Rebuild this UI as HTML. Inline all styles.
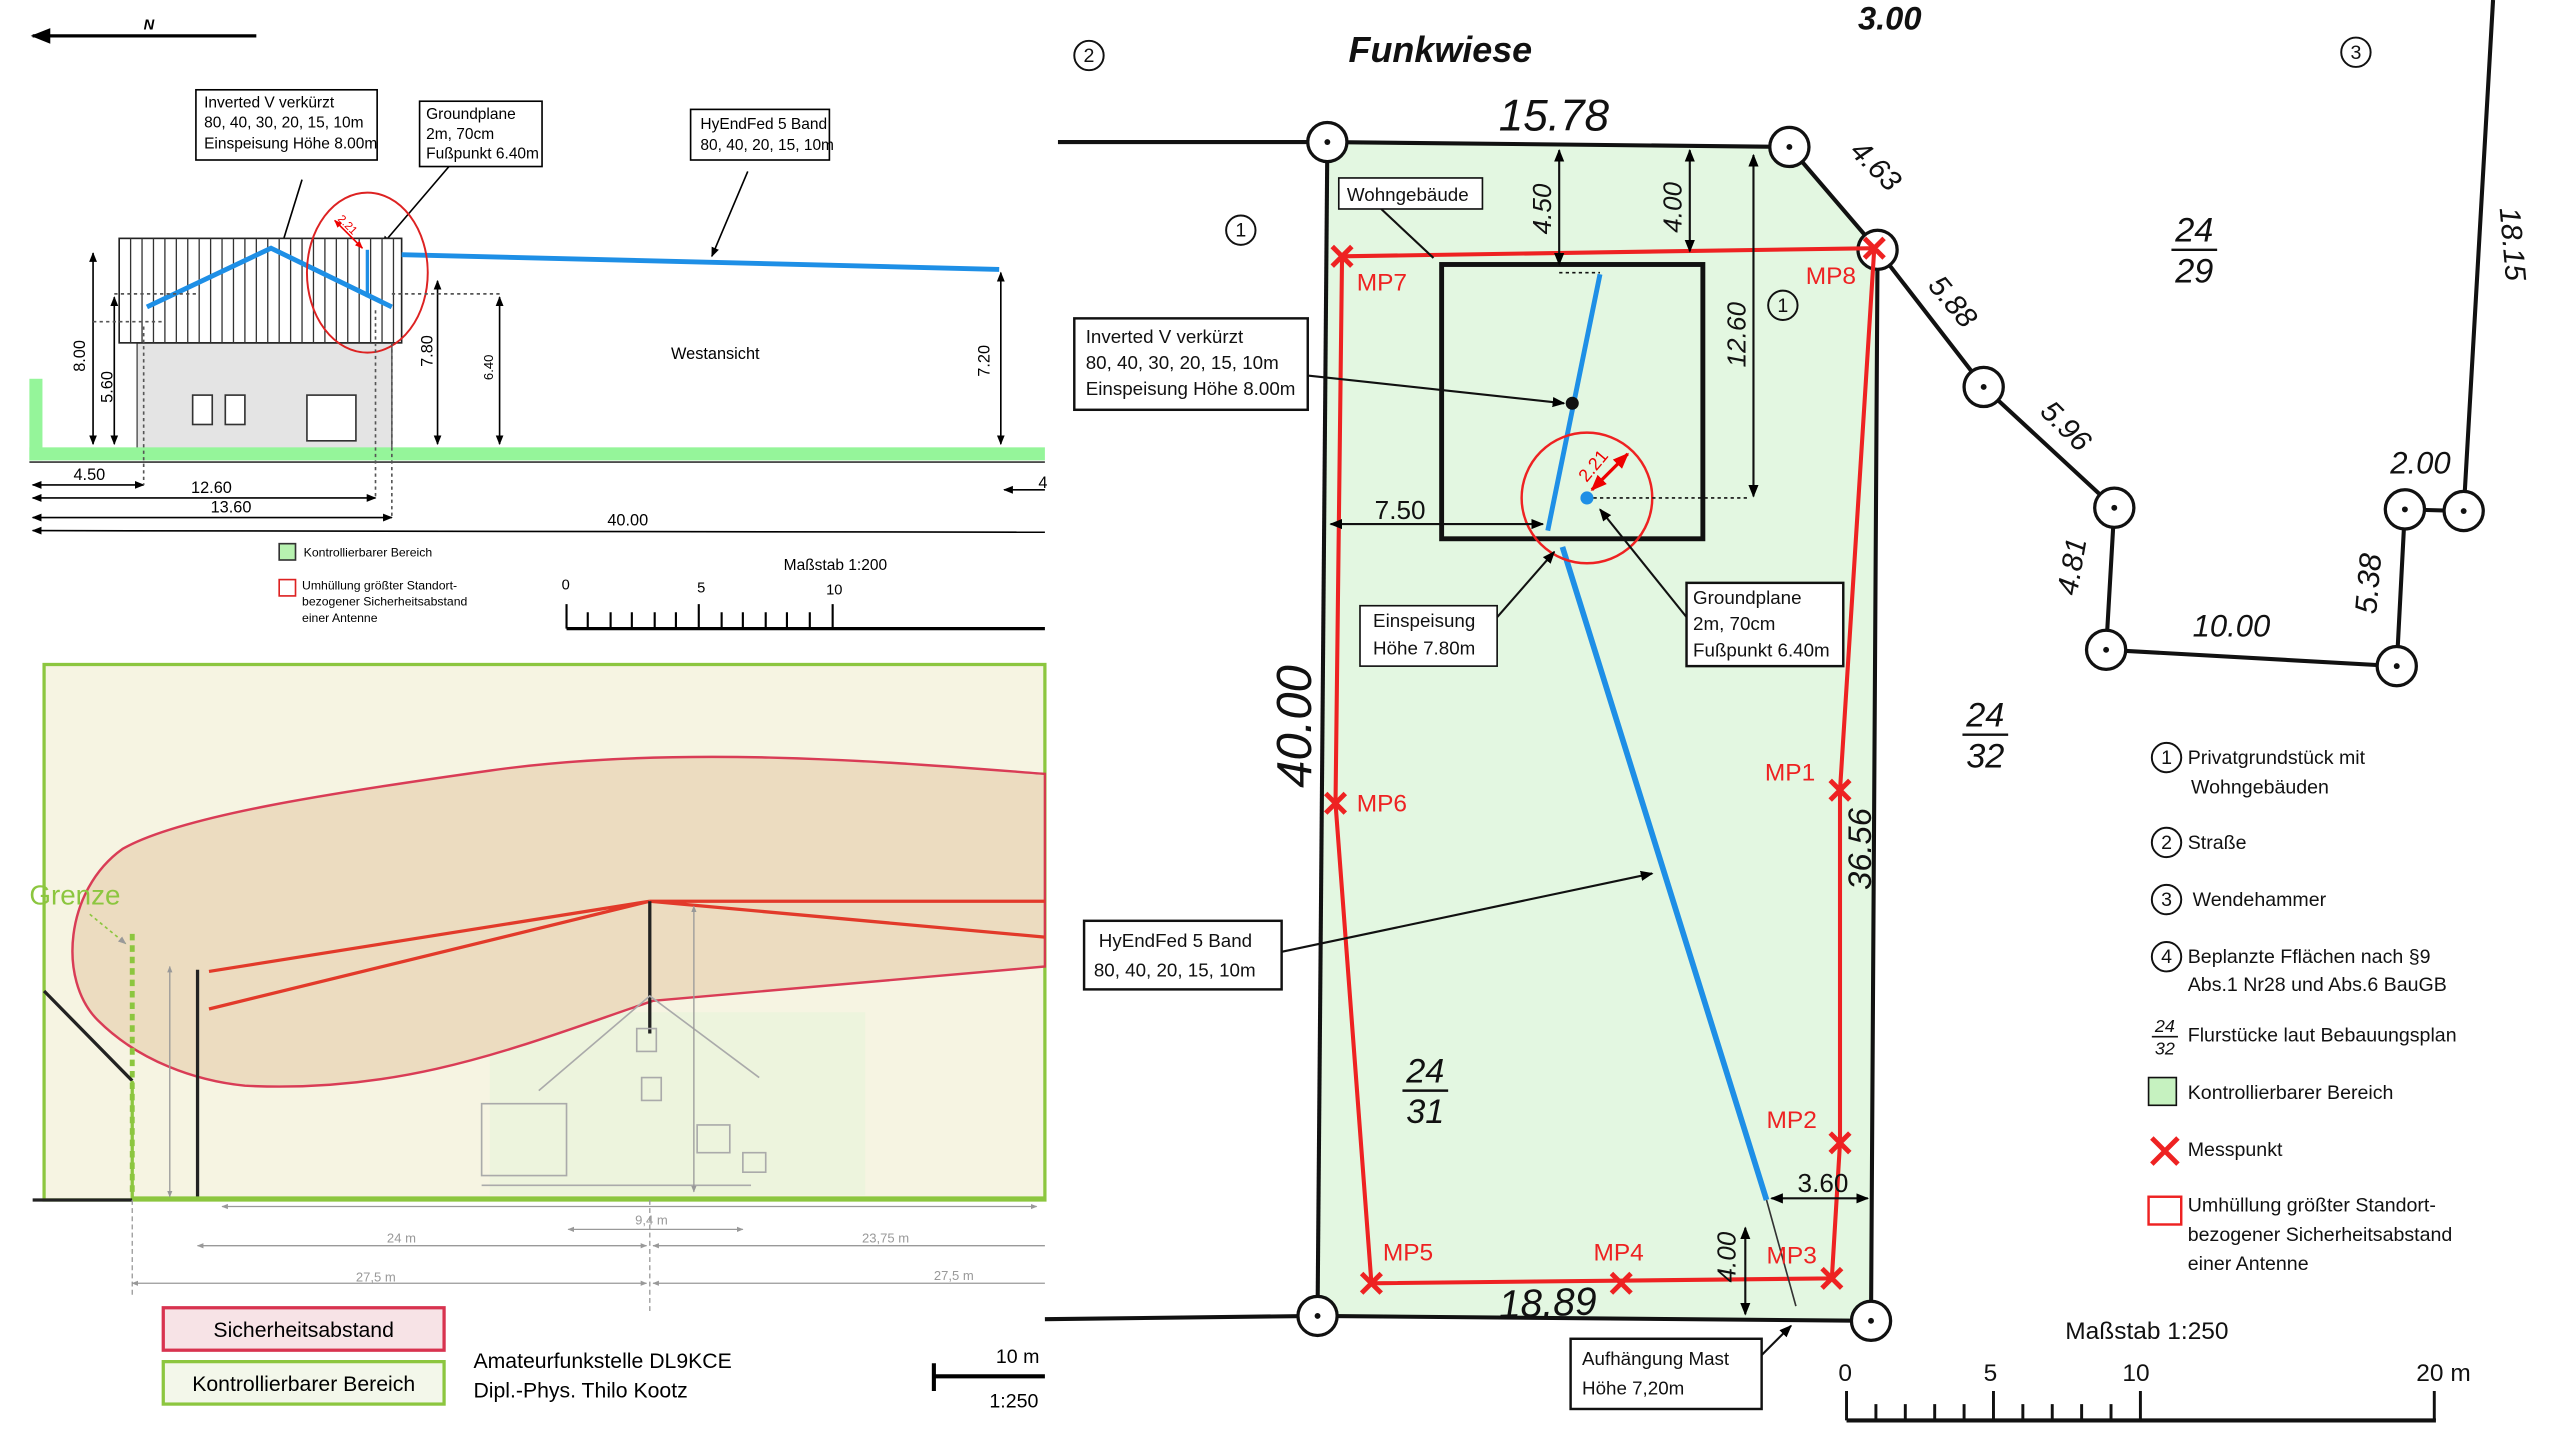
<!DOCTYPE html>
<html><head><meta charset="utf-8"><style>html,body{margin:0;padding:0;background:#fff}svg{display:block}text{font-family:"Liberation Sans",sans-serif}</style></head><body>
<svg width="2560" height="1440" viewBox="0 0 1568 882" preserveAspectRatio="none" xmlns="http://www.w3.org/2000/svg">
<defs>
<marker id="a" viewBox="0 0 10 10" refX="9" refY="5" markerWidth="6" markerHeight="6" orient="auto-start-reverse"><path d="M0,1 L10,5 L0,9 z" fill="#000"/></marker>
<marker id="r" viewBox="0 0 10 10" refX="9" refY="5" markerWidth="5" markerHeight="5" orient="auto-start-reverse"><path d="M0,1 L10,5 L0,9 z" fill="#e00"/></marker>
<marker id="g" viewBox="0 0 10 10" refX="9" refY="5" markerWidth="5" markerHeight="5" orient="auto-start-reverse"><path d="M0,1 L10,5 L0,9 z" fill="#999"/></marker>
</defs>
<rect width="1568" height="882" fill="#fff"/>
<!-- TOP LEFT -->
<line x1="20" y1="22" x2="157" y2="22" stroke="#000" stroke-width="2" marker-start="url(#a)"/>
<text x="88" y="18" font-size="9" font-weight="bold" font-style="italic">N</text>
<g font-size="9.5">
<rect x="120" y="55" width="111" height="43" fill="#fff" stroke="#000"/>
<text x="125" y="66">Inverted V verkürzt</text><text x="125" y="78">80, 40, 30, 20, 15, 10m</text><text x="125" y="91">Einspeisung Höhe 8.00m</text>
<rect x="257" y="62" width="75" height="40" fill="#fff" stroke="#000"/>
<text x="261" y="73">Groundplane</text><text x="261" y="85">2m, 70cm</text><text x="261" y="97">Fußpunkt 6.40m</text>
<rect x="423" y="67" width="85" height="31" fill="#fff" stroke="#000"/>
<text x="429" y="79">HyEndFed 5 Band</text><text x="429" y="92">80, 40, 20, 15, 10m</text>
</g>
<line x1="185" y1="110" x2="172" y2="152" stroke="#000" marker-end="url(#a)"/>
<line x1="275" y1="102" x2="234" y2="150" stroke="#000" marker-end="url(#a)"/>
<line x1="458" y1="105" x2="436" y2="157" stroke="#000" marker-end="url(#a)"/>
<rect x="84" y="210" width="156" height="65" fill="#e4e4e4" stroke="#666"/>
<rect x="118" y="242" width="12" height="18" fill="#fff" stroke="#333"/><rect x="138" y="242" width="12" height="18" fill="#fff" stroke="#333"/><rect x="188" y="242" width="30" height="28" fill="#fff" stroke="#333"/>
<rect x="73" y="146" width="173" height="64" fill="#fff" stroke="#222"/>
<g stroke="#333" stroke-width="0.8">
<path d="M80,146v64M87,146v64M94,146v64M101,146v64M108,146v64M115,146v64M122,146v64M129,146v64M136,146v64M143,146v64M150,146v64M157,146v64M164,146v64M171,146v64M178,146v64M185,146v64M192,146v64M199,146v64M206,146v64M213,146v64M220,146v64M227,146v64M234,146v64M241,146v64"/></g>
<polyline points="90,188 166,152 240,188" fill="none" stroke="#1e8fe6" stroke-width="3"/>
<line x1="225" y1="153" x2="225" y2="182" stroke="#1e8fe6" stroke-width="2"/>
<line x1="246" y1="156" x2="612" y2="165" stroke="#1e8fe6" stroke-width="3"/>
<ellipse cx="225" cy="167" rx="37" ry="49" fill="none" stroke="#d22" stroke-width="1.2"/>
<line x1="205" y1="135" x2="222" y2="152" stroke="#e00" marker-start="url(#r)" marker-end="url(#r)"/>
<text x="205" y="138" font-size="7" fill="#e00" transform="rotate(45 210 138)">2.21</text>
<rect x="18" y="274" width="622" height="8" fill="#95f59a"/><rect x="18" y="232" width="8" height="50" fill="#95f59a"/>
<line x1="18" y1="283" x2="640" y2="283" stroke="#333"/>
<g stroke="#000" fill="none" stroke-width="1">
<line x1="57" y1="155" x2="57" y2="272" marker-start="url(#a)" marker-end="url(#a)"/>
<line x1="70" y1="182" x2="70" y2="272" marker-start="url(#a)" marker-end="url(#a)"/>
<line x1="268" y1="172" x2="268" y2="272" marker-start="url(#a)" marker-end="url(#a)"/>
<line x1="306" y1="182" x2="306" y2="272" marker-start="url(#a)" marker-end="url(#a)"/>
<line x1="613" y1="167" x2="613" y2="272" marker-start="url(#a)" marker-end="url(#a)"/>
<line x1="20" y1="297" x2="88" y2="297" marker-start="url(#a)" marker-end="url(#a)"/>
<line x1="20" y1="305" x2="230" y2="305" marker-start="url(#a)" marker-end="url(#a)"/>
<line x1="20" y1="317" x2="240" y2="317" marker-start="url(#a)" marker-end="url(#a)"/>
<line x1="20" y1="325" x2="640" y2="326"  marker-start="url(#a)"/>
<line x1="615" y1="300" x2="640" y2="300" marker-start="url(#a)"/>
</g>
<g stroke="#555" stroke-dasharray="2,2"><path d="M99,197H57M120,180H70M240,180H306M88,200V297M230,190V305M240,210V317"/></g>
<g font-size="10">
<text x="52" y="218" transform="rotate(-90 52 218)" text-anchor="middle">8.00</text>
<text x="69" y="237" transform="rotate(-90 69 237)" text-anchor="middle">5.60</text>
<text x="265" y="215" transform="rotate(-90 265 215)" text-anchor="middle">7.80</text>
<text x="302" y="225" transform="rotate(-90 302 225)" text-anchor="middle" font-size="8">6.40</text>
<text x="606" y="221" transform="rotate(-90 606 221)" text-anchor="middle">7.20</text>
<text x="45" y="294">4.50</text><text x="117" y="302">12.60</text><text x="129" y="314">13.60</text><text x="372" y="322">40.00</text><text x="636" y="299">4</text>
<text x="411" y="220">Westansicht</text>
<text x="480" y="349" font-size="9.5">Maßstab 1:200</text>
<text x="344" y="361" font-size="9">0</text><text x="427" y="363" font-size="9">5</text><text x="506" y="364" font-size="9">10</text>
</g>
<rect x="171" y="333" width="10" height="10" fill="#b7f2b0" stroke="#333"/>
<text x="186" y="341" font-size="7.5">Kontrollierbarer Bereich</text>
<rect x="171" y="355" width="10" height="10" fill="#fff" stroke="#d22"/>
<text x="185" y="361" font-size="7.5">Umhüllung größter Standort-</text><text x="185" y="371" font-size="7.5">bezogener Sicherheitsabstand</text><text x="185" y="381" font-size="7.5">einer Antenne</text>
<line x1="347" y1="385" x2="640" y2="385" stroke="#000" stroke-width="2"/>
<path d="M347,370V385M360,375V385M374,375V385M387,375V385M401,375V385M414,375V385M428,370V385M442,375V385M455,375V385M469,375V385M482,375V385M496,375V385M510,370V385" stroke="#000" stroke-width="1.3"/>
<!-- BOTTOM LEFT -->
<rect x="27" y="407" width="613" height="328" fill="#f6f4e2" stroke="#8cc63f" stroke-width="2"/>
<rect x="300" y="620" width="230" height="112" fill="#e9f3dc" opacity="0.7"/>
<path d="M640,474 C560,468 420,455 300,472 C200,486 110,500 75,520 C40,545 35,600 60,625 C85,650 120,662 150,665 C250,670 320,640 400,613 L640,592 Z" fill="#ecdbbf" stroke="#d8334f" stroke-width="1.5" opacity="0.95"/>
<g stroke="#e23a2a" stroke-width="2" fill="none"><path d="M398,552H640M398,552L640,574M398,552L128,595M398,552L128,618"/></g>
<line x1="398" y1="552" x2="398" y2="633" stroke="#222" stroke-width="2"/>
<line x1="121" y1="594" x2="121" y2="733" stroke="#222" stroke-width="2"/>
<g stroke="#aaa" fill="none" stroke-width="1"><path d="M330,668L398,610L465,660M295,676h52v44h-52zM390,630h12v14h-12zM393,660h12v14h-12zM427,689h20v17h-20zM455,706h14v12h-14zM295,726H460"/></g>
<text x="18" y="554" font-size="17" fill="#8cc63f">Grenze</text>
<line x1="55" y1="560" x2="77" y2="578" stroke="#8cc63f" stroke-dasharray="2,2" marker-end="url(#g)"/>
<line x1="81" y1="572" x2="81" y2="733" stroke="#8cc63f" stroke-width="3" stroke-dasharray="4,3"/>
<line x1="27" y1="607" x2="81" y2="662" stroke="#222" stroke-width="2"/>
<line x1="81" y1="662" x2="81" y2="735" stroke="#8cc63f" stroke-width="2"/>
<line x1="20" y1="735" x2="81" y2="735" stroke="#222" stroke-width="2"/>
<line x1="81" y1="734" x2="640" y2="734" stroke="#8cc63f" stroke-width="2.5"/>
<g stroke="#999" stroke-width="0.8" fill="none">
<line x1="136" y1="739" x2="635" y2="739" marker-start="url(#g)" marker-end="url(#g)"/>
<line x1="348" y1="753" x2="455" y2="753" marker-start="url(#g)" marker-end="url(#g)"/>
<line x1="121" y1="763" x2="396" y2="763" marker-start="url(#g)" marker-end="url(#g)"/>
<line x1="400" y1="763" x2="640" y2="763" marker-start="url(#g)"/>
<line x1="81" y1="786" x2="396" y2="786" marker-start="url(#g)" marker-end="url(#g)"/>
<line x1="400" y1="786" x2="640" y2="786" marker-start="url(#g)"/>
<line x1="398" y1="735" x2="398" y2="805" stroke-dasharray="3,2"/>
<line x1="81" y1="735" x2="81" y2="795" stroke-dasharray="3,2"/>
<line x1="104" y1="592" x2="104" y2="733" marker-start="url(#g)" marker-end="url(#g)"/>
<line x1="425" y1="555" x2="425" y2="730" marker-start="url(#g)" marker-end="url(#g)"/>
</g>
<g font-size="8" fill="#999"><text x="237" y="761">24 m</text><text x="389" y="750">9,4 m</text><text x="528" y="761">23,75 m</text><text x="218" y="785">27,5 m</text><text x="572" y="784">27,5 m</text></g>
<rect x="100" y="801" width="172" height="26" fill="#f7e3e6" stroke="#d8334f" stroke-width="2"/>
<text x="186" y="819" font-size="13" text-anchor="middle">Sicherheitsabstand</text>
<rect x="100" y="834" width="172" height="26" fill="#f3f7ea" stroke="#8cc63f" stroke-width="2"/>
<text x="186" y="852" font-size="13" text-anchor="middle">Kontrollierbarer Bereich</text>
<text x="290" y="838" font-size="13">Amateurfunkstelle DL9KCE</text>
<text x="290" y="856" font-size="13">Dipl.-Phys. Thilo Kootz</text>
<text x="610" y="835" font-size="12">10 m</text>
<path d="M572,835V852M572,843H640" stroke="#000" stroke-width="2.5"/>
<text x="606" y="862" font-size="12">1:250</text>
<!-- RIGHT -->
<polygon points="813,87 1096,90 1150,153 1146,809 807,806" fill="#e3f7e1"/>
<g stroke="#111" stroke-width="2.5" fill="none">
<polyline points="648,87 813,87 1096,90 1150,153 1146,809"/>
<polyline points="640,808 807,806 1146,809"/>
<line x1="813" y1="87" x2="807" y2="806"/>
<polyline points="1150,153 1215,237 1295,311 1290,398 1468,408 1473,312 1509,313 1527,0"/>
</g>
<g fill="#fff" stroke="#111" stroke-width="2">
<circle cx="813" cy="87" r="12"/><circle cx="1096" cy="90" r="12"/><circle cx="1150" cy="153" r="12"/><circle cx="807" cy="806" r="12"/><circle cx="1146" cy="809" r="12"/>
<circle cx="1215" cy="237" r="12"/><circle cx="1295" cy="311" r="12"/><circle cx="1290" cy="398" r="12"/><circle cx="1468" cy="408" r="12"/><circle cx="1473" cy="312" r="12"/><circle cx="1509" cy="313" r="12"/>
</g>
<g fill="#111"><circle cx="813" cy="87" r="1.8"/><circle cx="1096" cy="90" r="1.8"/><circle cx="807" cy="806" r="1.8"/><circle cx="1146" cy="809" r="1.8"/><circle cx="1215" cy="237" r="1.8"/><circle cx="1295" cy="311" r="1.8"/><circle cx="1290" cy="398" r="1.8"/><circle cx="1468" cy="408" r="1.8"/><circle cx="1473" cy="312" r="1.8"/><circle cx="1509" cy="313" r="1.8"/></g>
<polygon points="822,157 1148,152 1127,484 1127,700 1122,783 840,786 818,492" fill="none" stroke="#e22" stroke-width="2.5"/>
<rect x="883" y="162" width="160" height="168" fill="none" stroke="#111" stroke-width="3"/>
<line x1="980" y1="168" x2="948" y2="325" stroke="#1e8fe6" stroke-width="3"/>
<line x1="957" y1="335" x2="1082" y2="735" stroke="#1e8fe6" stroke-width="3.5"/>
<line x1="1082" y1="735" x2="1100" y2="800" stroke="#333" stroke-width="1"/>
<circle cx="963" cy="247" r="4" fill="#111"/>
<circle cx="972" cy="305" r="40" fill="none" stroke="#e22" stroke-width="1.5"/>
<circle cx="972" cy="305" r="4" fill="#1e8fe6"/>
<line x1="975" y1="300" x2="997" y2="278" stroke="#e00" stroke-width="2" marker-start="url(#r)" marker-end="url(#r)"/>
<text x="970" y="292" font-size="11" fill="#e00" transform="rotate(-50 975 292)">2.21</text>
<line x1="976" y1="305" x2="1072" y2="305" stroke="#111" stroke-dasharray="2,2"/>
<line x1="955" y1="167" x2="980" y2="167" stroke="#111" stroke-dasharray="2,2"/>
<g stroke="#111" stroke-width="1.3" fill="none">
<line x1="955" y1="92" x2="955" y2="162" marker-start="url(#a)" marker-end="url(#a)"/>
<line x1="1035" y1="92" x2="1035" y2="154" marker-start="url(#a)" marker-end="url(#a)"/>
<line x1="1074" y1="95" x2="1074" y2="304" marker-start="url(#a)" marker-end="url(#a)"/>
<line x1="815" y1="321" x2="945" y2="321" marker-start="url(#a)" marker-end="url(#a)"/>
<line x1="1085" y1="734" x2="1144" y2="734" marker-start="url(#a)" marker-end="url(#a)"/>
<line x1="1069" y1="752" x2="1069" y2="805" marker-start="url(#a)" marker-end="url(#a)"/>
<line x1="846" y1="128" x2="878" y2="158"/>
<line x1="801" y1="230" x2="958" y2="247" marker-end="url(#a)"/>
<line x1="917" y1="378" x2="952" y2="338" marker-end="url(#a)"/>
<line x1="1033" y1="378" x2="980" y2="312" marker-end="url(#a)"/>
<line x1="785" y1="583" x2="1012" y2="535" marker-end="url(#a)"/>
<line x1="1079" y1="830" x2="1097" y2="812" marker-end="url(#a)"/>
</g>
<g font-size="11.5" fill="#111">
<rect x="820" y="109" width="88" height="19" fill="#fff" stroke="#111"/><text x="825" y="123">Wohngebäude</text>
<rect x="658" y="195" width="143" height="56" fill="#fff" stroke="#111" stroke-width="1.5"/><text x="665" y="210">Inverted V verkürzt</text><text x="665" y="226">80, 40, 30, 20, 15, 10m</text><text x="665" y="242">Einspeisung Höhe 8.00m</text>
<rect x="833" y="371" width="84" height="37" fill="#fff" stroke="#111"/><text x="841" y="384">Einspeisung</text><text x="841" y="401">Höhe 7.80m</text>
<rect x="1033" y="357" width="96" height="51" fill="#fff" stroke="#111" stroke-width="1.5"/><text x="1037" y="370">Groundplane</text><text x="1037" y="386">2m, 70cm</text><text x="1037" y="402">Fußpunkt 6.40m</text>
<rect x="664" y="564" width="121" height="42" fill="#fff" stroke="#111" stroke-width="1.5"/><text x="673" y="580">HyEndFed 5 Band</text><text x="670" y="598">80, 40, 20, 15, 10m</text>
<rect x="962" y="820" width="117" height="43" fill="#fff" stroke="#111" stroke-width="1.5"/><text x="969" y="836">Aufhängung Mast</text><text x="969" y="854">Höhe 7,20m</text>
</g>
<g fill="#e22" font-size="15">
<text x="831" y="178">MP7</text><text x="1106" y="174">MP8</text><text x="1081" y="478">MP1</text><text x="831" y="497">MP6</text><text x="1082" y="691">MP2</text><text x="847" y="772">MP5</text><text x="976" y="772">MP4</text><text x="1082" y="774">MP3</text>
</g>
<g stroke="#e22" stroke-width="3"><path d="M816,151l12,12m0,-12l-12,12M1142,146l12,12m0,-12l-12,12M1121,478l12,12m0,-12l-12,12M812,486l12,12m0,-12l-12,12M1121,694l12,12m0,-12l-12,12M1116,777l12,12m0,-12l-12,12M987,780l12,12m0,-12l-12,12M834,780l12,12m0,-12l-12,12"/></g>
<g font-style="italic" fill="#111">
<text x="826" y="38" font-size="22" font-weight="bold">Funkwiese</text>
<text x="918" y="80" font-size="27">15.78</text>
<text x="1138" y="18" font-size="20" font-weight="bold">3.00</text>
<text x="950" y="128" font-size="16" transform="rotate(-90 950 128)" text-anchor="middle">4.50</text>
<text x="1030" y="127" font-size="16" transform="rotate(-90 1030 127)" text-anchor="middle">4.00</text>
<text x="1069" y="205" font-size="16" transform="rotate(-90 1069 205)" text-anchor="middle">12.60</text>
<text x="842" y="318" font-size="16" font-style="normal">7.50</text>
<text x="803" y="445" font-size="30" transform="rotate(-90 803 445)" text-anchor="middle">40.00</text>
<text x="1146" y="520" font-size="20" transform="rotate(-90 1146 520)" text-anchor="middle">36.56</text>
<text x="1101" y="730" font-size="16" font-style="normal">3.60</text>
<text x="1063" y="770" font-size="16" transform="rotate(-90 1063 770)" text-anchor="middle">4.00</text>
<text x="918" y="806" font-size="24" transform="rotate(-2 950 800)">18.89</text>
<text x="1128" y="104" font-size="18" transform="rotate(45 1143 104)">4.63</text>
<text x="1178" y="190" font-size="18" transform="rotate(50 1195 185)">5.88</text>
<text x="1247" y="267" font-size="18" transform="rotate(45 1265 262)">5.96</text>
<text x="1275" y="348" font-size="18" transform="rotate(-80 1275 348)" text-anchor="middle">4.81</text>
<text x="1343" y="390" font-size="19">10.00</text>
<text x="1457" y="358" font-size="19" transform="rotate(-85 1457 358)" text-anchor="middle">5.38</text>
<text x="1464" y="290" font-size="19">2.00</text>
<text x="1533" y="150" font-size="18" transform="rotate(85 1533 150)" text-anchor="middle">18.15</text>
<g font-size="21" text-anchor="middle">
<text x="1344" y="148">24</text><line x1="1330" y1="153" x2="1358" y2="153" stroke="#111" stroke-width="1.5"/><text x="1344" y="173">29</text>
<text x="1216" y="445">24</text><line x1="1202" y1="450" x2="1230" y2="450" stroke="#111" stroke-width="1.5"/><text x="1216" y="470">32</text>
<text x="873" y="663">24</text><line x1="859" y1="668" x2="887" y2="668" stroke="#111" stroke-width="1.5"/><text x="873" y="688">31</text>
</g>
</g>
<g font-size="12" fill="#111">
<g fill="none" stroke="#111" stroke-width="1.2"><circle cx="667" cy="34" r="9"/><circle cx="1443" cy="32" r="9"/><circle cx="760" cy="141" r="9"/><circle cx="1092" cy="187" r="9"/><circle cx="1327" cy="464" r="9"/><circle cx="1327" cy="516" r="9"/><circle cx="1327" cy="551" r="9"/><circle cx="1327" cy="586" r="9"/></g>
<g text-anchor="middle"><text x="667" y="38">2</text><text x="1443" y="36">3</text><text x="760" y="145">1</text><text x="1092" y="191">1</text><text x="1327" y="468">1</text><text x="1327" y="520">2</text><text x="1327" y="555">3</text><text x="1327" y="590">4</text></g>
<text x="1340" y="468">Privatgrundstück mit</text><text x="1342" y="486">Wohngebäuden</text>
<text x="1340" y="520">Straße</text><text x="1343" y="555">Wendehammer</text>
<text x="1340" y="590">Beplanzte Fflächen nach §9</text><text x="1340" y="607">Abs.1 Nr28 und Abs.6 BauGB</text>
<text x="1326" y="632" font-size="11" font-style="italic" text-anchor="middle">24</text><line x1="1318" y1="635" x2="1334" y2="635" stroke="#111"/><text x="1326" y="646" font-size="11" font-style="italic" text-anchor="middle">32</text>
<text x="1340" y="638">Flurstücke laut Bebauungsplan</text>
<rect x="1316" y="660" width="17" height="17" fill="#c6f2c0" stroke="#111"/><text x="1340" y="673">Kontrollierbarer Bereich</text>
<path d="M1318,697l16,16m0,-16l-16,16" stroke="#e22" stroke-width="3"/><text x="1340" y="708">Messpunkt</text>
<rect x="1316" y="733" width="20" height="17" fill="#fff" stroke="#e22" stroke-width="1.5"/>
<text x="1340" y="742">Umhüllung größter Standort-</text><text x="1340" y="760">bezogener Sicherheitsabstand</text><text x="1340" y="778">einer Antenne</text>
<text x="1265" y="820" font-size="15">Maßstab 1:250</text>
<text x="1126" y="846" font-size="15">0</text><text x="1215" y="846" font-size="15">5</text><text x="1300" y="846" font-size="15">10</text><text x="1480" y="846" font-size="15">20 m</text>
</g>
<line x1="1131" y1="870" x2="1492" y2="870" stroke="#111" stroke-width="2.5"/>
<path d="M1131,852V870M1149,860V870M1167,860V870M1185,860V870M1203,860V870M1221,852V870M1239,860V870M1257,860V870M1275,860V870M1293,860V870M1311,852V870M1491,852V870" stroke="#111" stroke-width="1.8"/>
</svg>
</body></html>
